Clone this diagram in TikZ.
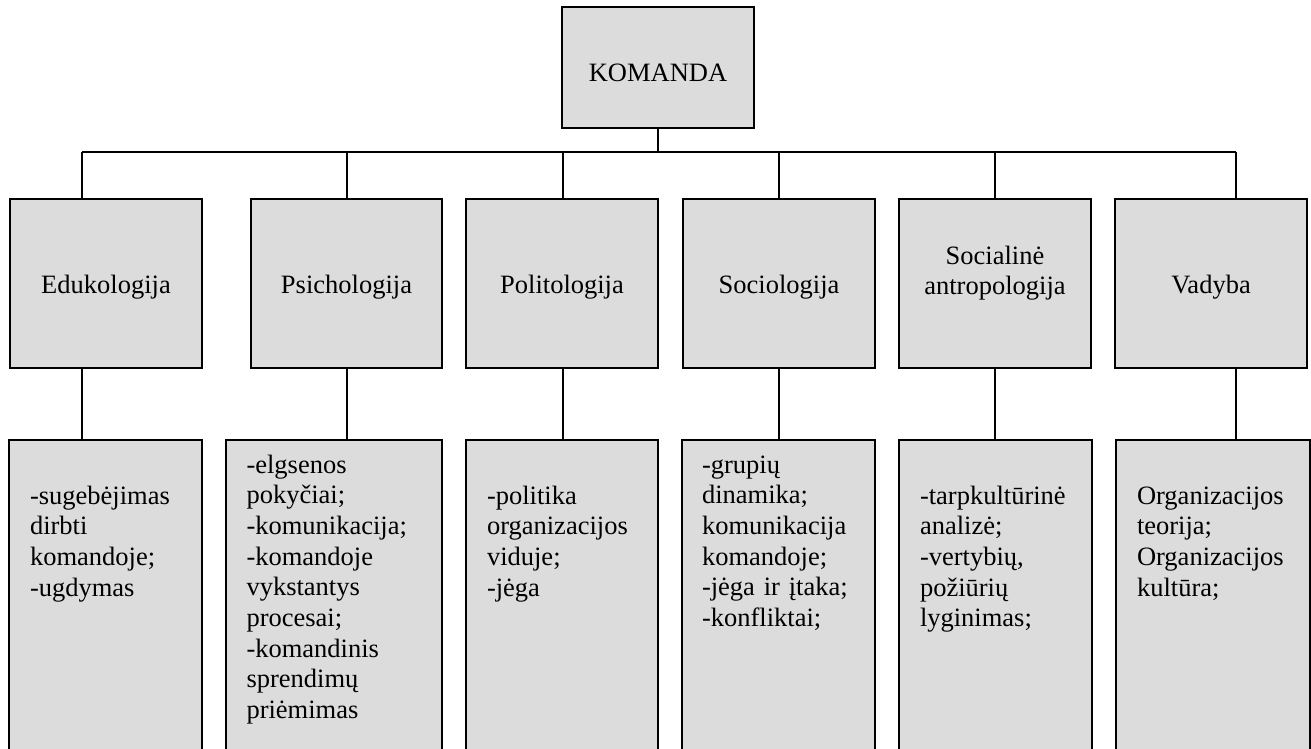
\documentclass[tikz,border=0pt]{standalone}
\usepackage{fontspec}
\setmainfont{Liberation Serif}
\definecolor{boxgray}{RGB}{220,220,220}
\begin{document}
\begin{tikzpicture}[x=1pt,y=-1pt,
  box/.style={draw=black, line width=1.8pt, fill=boxgray, inner sep=0pt, outer sep=0pt},
  conn/.style={draw=black, line width=1.5pt},
  lbl/.style={inner sep=0pt, outer sep=0pt, font=\fontsize{26.5}{30.7}\selectfont},
  ctext/.style={lbl, anchor=base, align=center, text width=188pt},
  ltext/.style={lbl, anchor=base west, align=left, text width=188pt},
]
\clip (0,0) rectangle (1311,748);
\fill[white] (0,0) rectangle (1311,748);
% coordinates on the bar
\coordinate (t1) at (82,152);
\coordinate (t2) at (347,152);
\coordinate (t3) at (563,152);
\coordinate (t4) at (779,152);
\coordinate (t5) at (995,152);
\coordinate (t6) at (1236,152);
% boxes
\node[box, minimum width=192pt, minimum height=121pt] (k) at (658,67.5) {};
\node[box, minimum width=192pt, minimum height=169pt] (b1) at (106,283.5) {};
\node[box, minimum width=191pt, minimum height=169pt] (b2) at (346.5,283.5) {};
\node[box, minimum width=192pt, minimum height=169pt] (b3) at (562,283.5) {};
\node[box, minimum width=192pt, minimum height=169pt] (b4) at (779,283.5) {};
\node[box, minimum width=192pt, minimum height=169pt] (b5) at (995,283.5) {};
\node[box, minimum width=192pt, minimum height=169pt] (b6) at (1211,283.5) {};
\node[box, minimum width=193pt, minimum height=340pt] (c1) at (105.5,610) {};
\node[box, minimum width=216pt, minimum height=340pt] (c2) at (334,610) {};
\node[box, minimum width=192pt, minimum height=340pt] (c3) at (562,610) {};
\node[box, minimum width=193pt, minimum height=340pt] (c4) at (778.5,610) {};
\node[box, minimum width=193pt, minimum height=340pt] (c5) at (995.5,610) {};
\node[box, minimum width=194pt, minimum height=340pt] (c6) at (1213,610) {};
% connectors
\draw[conn] (k.south) -- (k.south |- t1);
\draw[conn] (t1) -- (t6);
\foreach \i in {1,...,6}{
  \draw[conn] (t\i) -- (t\i |- b\i.north);
  \draw[conn] (t\i |- b\i.south) -- (t\i |- c\i.north);
}
% labels
\node[lbl, anchor=base] (kt) at (658,81) {KOMANDA};
\node[ctext] (b1t) at (106,293) {Edukologija};
\node[ctext] (b2t) at (346.5,293) {Psichologija};
\node[ctext] (b3t) at (562,293) {Politologija};
\node[ctext] (b4t) at (779,293) {Sociologija};
\node[ctext] (b5t) at (995,264) {Socialinė\\antropologija};
\node[ctext] (b6t) at (1211,293) {Vadyba};
\node[ltext] (c1t) at (30,504) {-sugebėjimas\\dirbti\\komandoje;\\-ugdymas};
\node[ltext] (c2t) at (246.5,473) {-elgsenos\\pokyčiai;\\-komunikacija;\\-komandoje\\vykstantys\\procesai;\\-komandinis\\sprendimų\\priėmimas};
\node[ltext] (c3t) at (487,504) {-politika\\organizacijos\\viduje;\\-jėga};
\node[ltext] (c4t) at (702,473) {-grupių\\dinamika;\\komunikacija\\komandoje;\\-jėga ir įtaka;\\-konfliktai;};
\node[ltext] (c5t) at (920,504) {-tarpkultūrinė\\analizė;\\-vertybių,\\požiūrių\\lyginimas;};
\node[ltext] (c6t) at (1137,504) {Organizacijos\\teorija;\\Organizacijos\\kultūra;};
\end{tikzpicture}
\end{document}
